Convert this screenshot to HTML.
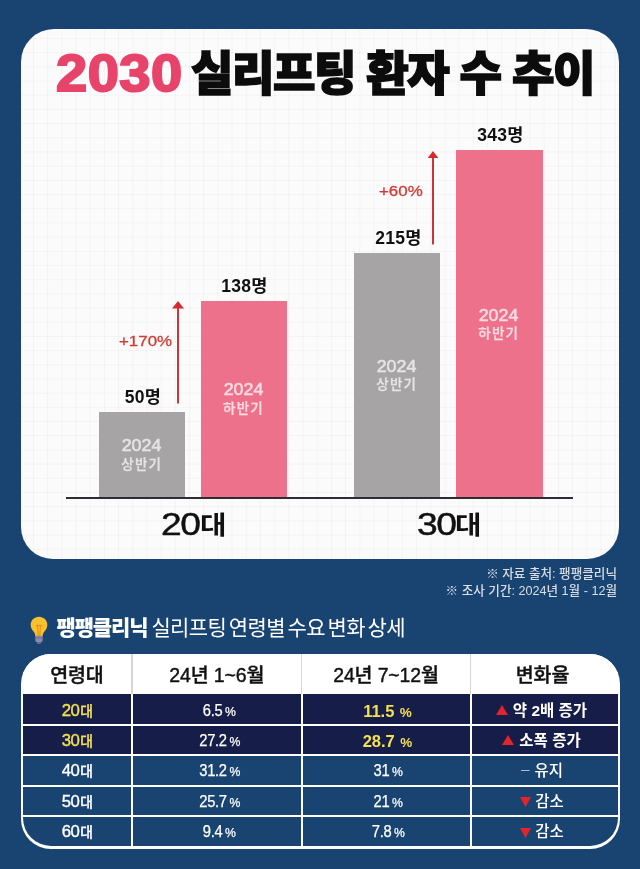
<!DOCTYPE html>
<html lang="ko">
<head>
<meta charset="utf-8">
<title>2030 실리프팅 환자 수 추이</title>
<style>
*{box-sizing:border-box;margin:0;padding:0}
html,body{width:640px;height:869px;overflow:hidden}
body{position:relative;background:#194472;font-family:"Liberation Sans","Noto Sans CJK KR",sans-serif;color:#fff}
.abs{position:absolute;white-space:nowrap}
.card{position:absolute;left:21px;top:29px;width:598px;height:530px;border-radius:33px 33px 32px 32px;background-color:#fcfbfc;
 background-image:linear-gradient(to right,rgba(175,170,178,.1) 1px,transparent 1px),linear-gradient(to bottom,rgba(175,170,178,.1) 1px,transparent 1px);
 background-size:14.2px 14.2px;background-position:12px 9px}
.title{left:0;top:41px;width:640px;height:64px;line-height:64px;font-weight:900;color:#0c0c0c;font-size:45px;letter-spacing:-1.5px;text-align:left}
.title .n{position:absolute;left:56px;top:0.5px;color:#e8446b;font-size:51px;font-weight:700;letter-spacing:.4px;font-family:"Liberation Sans",sans-serif;-webkit-text-stroke:2px #e8446b;transform:scaleX(1.1);transform-origin:0 50%}
.title .k{position:absolute;left:191px;top:1px;font-size:46.2px;letter-spacing:-1.5px;-webkit-text-stroke:1.6px #0c0c0c;font-family:"Liberation Sans","Noto Sans CJK KR",sans-serif}
.bar{position:absolute}
.g{background:#a6a4a5}
.p{background:#ee718c}
.cnt{font-weight:700;color:#111;font-size:17.5px;letter-spacing:.3px;text-align:center;line-height:20px}
.lab{text-align:center;line-height:18px;font-size:13.5px;font-weight:500;letter-spacing:1.2px;text-indent:1.2px;-webkit-text-stroke:.25px currentColor}
.lab b{display:block;font-size:16.2px;font-weight:400;letter-spacing:0;text-indent:0;line-height:19px;-webkit-text-stroke:.5px currentColor;transform:scaleX(1.1);position:relative;top:-.5px}
.lg{color:#e6e4e5}
.lp{color:#fcdbe2}
.pct{font-size:15.5px;line-height:18px;font-weight:400;letter-spacing:0;-webkit-text-stroke:.3px #d23a30;color:#d23a30;transform:scaleX(1.09);transform-origin:0 50%}
.grp{color:#111;line-height:36px;height:36px;text-align:left}
.grp i{position:absolute;left:0;top:1.8px;font-style:normal;font-size:31px;font-weight:400;-webkit-text-stroke:.45px #111;letter-spacing:-1.3px;transform:scaleX(1.2);transform-origin:0 50%}
.grp em{position:absolute;left:38.800px;top:1.5px;font-style:normal;font-size:25px;font-weight:700;transform:scaleX(1.15);transform-origin:0 50%}
.src{right:23px;text-align:right;font-size:12.6px;color:#d9dde5;line-height:16px;font-weight:500}
.head{left:56.500px;top:615px;font-size:21px;line-height:26px;font-weight:400;color:#fff;letter-spacing:-.6px;word-spacing:-2.7px}
.head b{font-weight:900;letter-spacing:-1.15px;margin-right:1.5px}
.tbl{position:absolute;left:21px;top:653.75px;width:598.5px;height:195px;border-radius:30px;background:#fff;overflow:hidden}
.tbl div{position:absolute;text-align:center;white-space:nowrap}
.th.l{padding-right:4px}
.th{top:0;height:40px;line-height:42.6px;color:#111;font-size:19.5px;font-weight:500;background:#fff;-webkit-text-stroke:.4px #111;letter-spacing:-.15px}
.c{line-height:29px;font-size:15.5px;font-weight:500;color:#fff;background:#194472;-webkit-text-stroke:.35px currentColor}
.c.d{background:#171d49}
.c.y{color:#f3e14f}
.c.b{font-weight:700;-webkit-text-stroke:0}
.c.b.n{font-size:16.5px;line-height:31.5px;padding-left:3px}
.c.b.n small{font-size:13.5px;margin-left:5.5px}
.c.m{-webkit-text-stroke:0}
.c.a{font-size:16.8px;letter-spacing:-.55px;padding-left:1px}
.c .k{font-size:13.8px;margin-left:.8px;letter-spacing:0}
.c.l{padding-right:6px}
.c.r{font-weight:400;-webkit-text-stroke:.25px currentColor;padding-left:5px;font-size:16.4px}
.c .v{display:inline-block;transform:scaleX(.9);letter-spacing:-.35px}
.c.r small{font-size:13.6px;margin-left:3px}
.c small{font-size:12.5px;margin-left:2.5px}
.c svg{display:inline-block;vertical-align:middle;position:relative;top:-1.5px;margin-right:5px}
.c u{text-decoration:none;color:#a9bbd4;font-weight:400;font-size:15.5px;margin-right:5px;margin-left:1px;position:relative;top:-2px}
.hl{background:#d6d6da;width:1.6px;top:0;height:40px}
</style>
</head>
<body>
<div class="card"></div>
<div class="abs title"><span class="n">2030</span><span class="k">실리프팅 환자 수 추이</span></div>

<!-- bars -->
<div class="bar g" style="left:98.6px;top:411.9px;width:86.8px;height:86.1px"></div>
<div class="bar p" style="left:200.6px;top:300.8px;width:86.9px;height:197.2px"></div>
<div class="bar g" style="left:354.4px;top:253.1px;width:86px;height:244.9px"></div>
<div class="bar p" style="left:455.8px;top:149.6px;width:87px;height:348.4px"></div>
<div class="bar" style="left:65.5px;top:497.3px;width:507.5px;height:1.8px;background:#2e2e32"></div>

<!-- arrows -->
<svg class="abs" style="left:170.9px;top:299.25px" width="14" height="108" viewBox="0 0 14 108"><path d="M7 6V104.4" stroke="#c4383d" stroke-width="2" fill="none"/><path d="M7 2L13 9.600H1Z" fill="#d62a30"/></svg>
<svg class="abs" style="left:425.9px;top:149.250px" width="14" height="98" viewBox="0 0 14 98"><path d="M7 6V95.500" stroke="#c4383d" stroke-width="2" fill="none"/><path d="M7 2L12.300 9H1.700Z" fill="#d62a30"/></svg>

<div class="abs cnt" style="left:99.5px;top:387px;width:87px">50명</div>
<div class="abs cnt" style="left:201px;top:276.2px;width:87px">138명</div>
<div class="abs cnt" style="left:355px;top:228px;width:87px">215명</div>
<div class="abs cnt" style="left:457px;top:124.8px;width:87px">343명</div>

<div class="abs pct" style="left:119px;top:332px">+170%</div>
<div class="abs pct" style="left:379px;top:182px">+60%</div>

<div class="abs lab lg" style="left:98.3px;top:436.5px;width:87px"><b>2024</b>상반기</div>
<div class="abs lab lp" style="left:200px;top:380.8px;width:87px"><b>2024</b>하반기</div>
<div class="abs lab lg" style="left:353.3px;top:357.2px;width:87px"><b>2024</b>상반기</div>
<div class="abs lab lp" style="left:455.3px;top:306.2px;width:87px"><b>2024</b>하반기</div>

<div class="abs grp" style="left:161px;top:505px"><i>20</i><em>대</em></div>
<div class="abs grp" style="left:416.500px;top:505px"><i>30</i><em>대</em></div>

<div class="abs src" style="top:566px">※ 자료 출처: 팽팽클리닉</div>
<div class="abs src" style="top:583px">※ 조사 기간: 2024년 1월 - 12월</div>

<svg class="abs" style="left:29px;top:615px" width="20" height="30" viewBox="0 0 20 30">
<path d="M10 1.8C5.3 1.8 1.7 5.4 1.7 9.9c0 3 1.5 4.9 2.9 6.7 1 1.300 1.6 2.700 1.800 4.600h7.200c.2-1.900.8-3.300 1.800-4.600 1.400-1.800 2.900-3.700 2.900-6.700C18.300 5.400 14.700 1.800 10 1.800z" fill="#f8c12d"/>
<path d="M7.400 10.500h5.200M8.500 10.800l.7 10M11.500 10.800l-.7 10" stroke="#e8951c" stroke-width="1.300" fill="none" stroke-linecap="round"/>
<path d="M6.300 20.800h7.400v4.200c0 1.500-1.100 2.600-2.600 2.600H8.900c-1.500 0-2.600-1.100-2.600-2.600z" fill="#8d89a9"/>
<path d="M6.300 22.900h7.400" stroke="#6f6b8f" stroke-width=".9"/>
<path d="M8.300 27.300h3.400v.6c0 .6-.5 1-1 1H9.300c-.6 0-1-.4-1-1z" fill="#6f6b8f"/>
</svg>
<div class="abs head"><b>팽팽클리닉</b> 실리프팅 연령별 수요 변화 상세</div>
<div class="tbl">
<div class="th" style="left:1.75px;width:108.25px">연령대</div>
<div class="th" style="left:112px;width:167.5px">24년 1~6월</div>
<div class="th" style="left:281.5px;width:167px">24년 7~12월</div>
<div class="th l" style="left:450.5px;width:146px">변화율</div>
<div class="hl" style="left:110.2px"></div>
<div class="hl" style="left:279.7px"></div>
<div class="hl" style="left:448.7px"></div>
<div class="c a d y" style="left:1.75px;width:108.25px;top:40.3px;height:29.5px;padding-top:1.6px">20<span class="k">대</span></div><div class="c r d" style="left:112px;width:167.5px;top:40.3px;height:29.5px;padding-top:1.6px"><span class="v">6.5<small>%</small></span></div><div class="c d y b n" style="left:281.5px;width:167px;top:40.3px;height:29.5px;padding-top:1.6px">11.5<small>%</small></div><div class="c d b l" style="left:450.5px;width:146px;top:40.3px;height:29.5px;padding-top:1.6px"><svg width="12" height="10" viewBox="0 0 12 10"><path d="M6 0L12 10H0Z" fill="#e3242b"/></svg>약 2배 증가</div>
<div class="c a d y" style="left:1.75px;width:108.25px;top:71.9px;height:28px">30<span class="k">대</span></div><div class="c r d" style="left:112px;width:167.5px;top:71.9px;height:28px"><span class="v">27.2<small>%</small></span></div><div class="c d y b n" style="left:281.5px;width:167px;top:71.9px;height:28px">28.7<small>%</small></div><div class="c d b l" style="left:450.5px;width:146px;top:71.9px;height:28px"><svg width="12" height="10" viewBox="0 0 12 10"><path d="M6 0L12 10H0Z" fill="#e3242b"/></svg>소폭 증가</div>
<div class="c a " style="left:1.75px;width:108.25px;top:101.9px;height:29.1px">40<span class="k">대</span></div><div class="c r " style="left:112px;width:167.5px;top:101.9px;height:29.1px"><span class="v">31.2<small>%</small></span></div><div class="c r " style="left:281.5px;width:167px;top:101.9px;height:29.1px"><span class="v">31<small>%</small></span></div><div class="c m l" style="left:450.5px;width:146px;top:101.9px;height:29.1px"><u>–</u>유지</div>
<div class="c a " style="left:1.75px;width:108.25px;top:132.8px;height:28.8px">50<span class="k">대</span></div><div class="c r " style="left:112px;width:167.5px;top:132.8px;height:28.8px"><span class="v">25.7<small>%</small></span></div><div class="c r " style="left:281.5px;width:167px;top:132.8px;height:28.8px"><span class="v">21<small>%</small></span></div><div class="c m l" style="left:450.5px;width:146px;top:132.8px;height:28.8px"><svg width="11" height="10" viewBox="0 0 11 10" style="margin-left:1px;margin-right:4px;top:-.5px"><path d="M0 0H11L5.500 10Z" fill="#e3242b"/></svg>감소</div>
<div class="c a " style="left:1.75px;width:108.25px;top:163.6px;height:29px;border-bottom-left-radius:28px">60<span class="k">대</span></div><div class="c r " style="left:112px;width:167.5px;top:163.6px;height:29px"><span class="v">9.4<small>%</small></span></div><div class="c r " style="left:281.5px;width:167px;top:163.6px;height:29px"><span class="v">7.8<small>%</small></span></div><div class="c m l" style="left:450.5px;width:146px;top:163.6px;height:29px;border-bottom-right-radius:28px"><svg width="11" height="10" viewBox="0 0 11 10" style="margin-left:1px;margin-right:4px;top:-.5px"><path d="M0 0H11L5.500 10Z" fill="#e3242b"/></svg>감소</div>
</div>
</body>
</html>
